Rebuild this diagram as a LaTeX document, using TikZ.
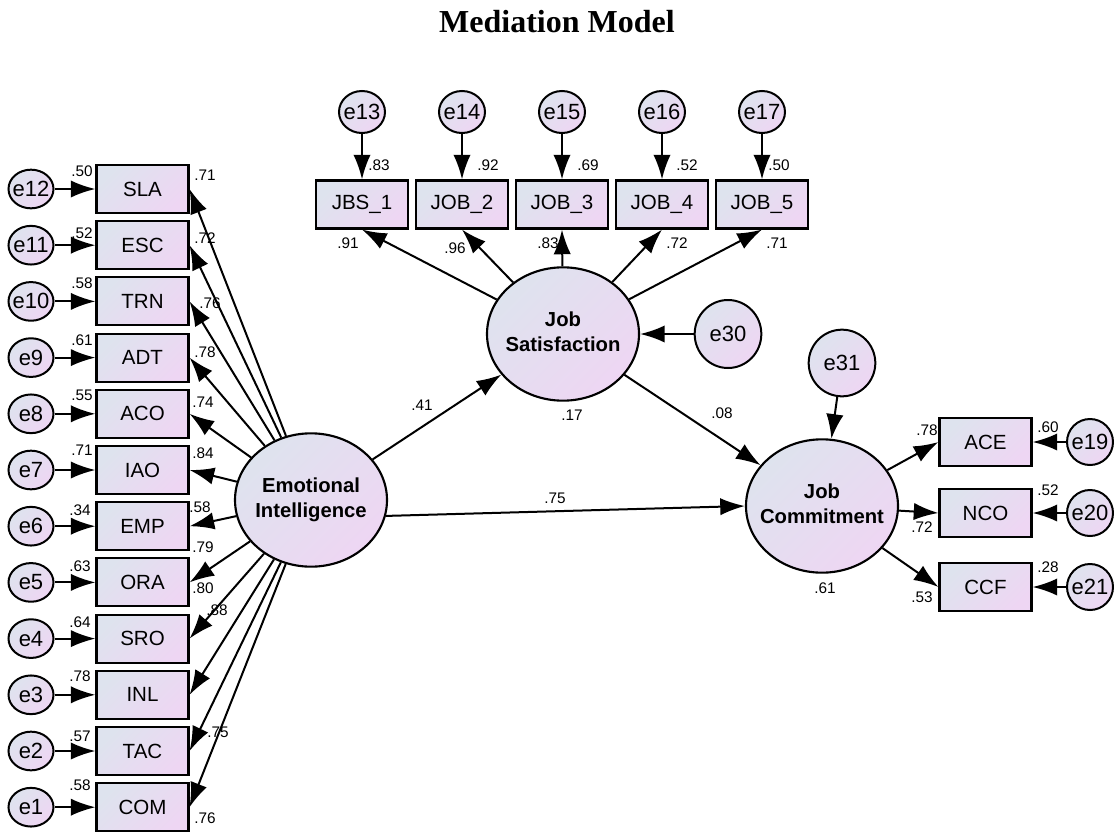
\documentclass[tikz,border=0pt]{standalone}
\usepackage{fontspec}
\setmainfont{Liberation Sans}
\newfontfamily\titlefont{Liberation Serif}
\usetikzlibrary{shapes.geometric,arrows.meta}
\definecolor{gradL}{RGB}{222,227,238}
\definecolor{gradR}{RGB}{238,214,243}
\newcommand\zwbox[1]{\makebox[0pt]{#1}}
\tikzset{
 grad/.style={left color=gradL,right color=gradR,shading angle=45},
 obs/.style={rectangle,draw,line width=1.6pt,grad,minimum width=69pt,minimum height=36pt,inner sep=0pt,font=\fontsize{15.4}{18}\selectfont},
 err/.style={ellipse,draw,line width=1.5pt,grad,inner sep=0pt,font=\fontsize{16.5}{19}\selectfont},
 lat/.style={ellipse,draw,line width=1.6pt,grad,minimum width=114pt,minimum height=100pt,inner sep=0pt,font=\fontsize{15.2}{18.75}\selectfont\bfseries},
 lbl/.style={inner sep=0pt,font=\fontsize{11.5}{13.5}\selectfont},
 arr/.style={line width=1.5pt,-{Latex[length=18.5pt,width=13pt]}},
}
\begin{document}
\begin{tikzpicture}[x=0.75pt,y=-0.75pt]
\useasboundingbox (0,0) rectangle (1114,832);
\node[anchor=base,inner sep=0pt,font=\titlefont\bfseries\fontsize{24}{28}\selectfont] (title) at (557,32) {Mediation Model};

% latent variables
\node[lat] (EI) at (311,500) {\zwbox{\begin{tabular}{@{}c@{}}Emotional\\Intelligence\end{tabular}}};
\node[lat] (JS) at (563,334) {\zwbox{\begin{tabular}{@{}c@{}}Job\\Satisfaction\end{tabular}}};
\node[lat] (JC) at (822,506) {\zwbox{\begin{tabular}{@{}c@{}}Job\\Commitment\end{tabular}}};
\node[err,minimum width=50pt,minimum height=51pt] (e30) at (728,334) {\zwbox{e30}};
\node[err,minimum width=50pt,minimum height=50pt] (e31) at (842,363) {\zwbox{e31}};

% left indicators
\foreach \nm/\er/\i in {SLA/e12/0,ESC/e11/1,TRN/e10/2,ADT/e9/3,ACO/e8/4,IAO/e7/5,EMP/e6/6,ORA/e5/7,SRO/e4/8,INL/e3/9,TAC/e2/10,COM/e1/11}{
  \pgfmathsetmacro\yy{189+56.2*\i}
  \node[obs] (\nm) at (142.5,\yy) {\nm};
  \node[err,minimum width=33.75pt,minimum height=29pt] (\er) at (31,\yy) {\zwbox{\er}};
  \draw[arr] (\er) -- (\nm);
  \draw[arr] (EI) -- (\nm.east);
}
% left variance labels
\foreach \v/\xx/\yy/\k in {.50/82/171/1,.52/82/233/2,.58/82/283/3,.61/82/340/4,.55/82/395/5,.71/82/450/6,.34/80/510/7,.63/80/566/8,.64/80/622/9,.78/80/676/10,.57/80/736/11,.58/80/785/12}{
  \node[lbl] (lv\k) at (\xx,\yy) {\v};
}
% left loading labels
\foreach \v/\xx/\yy/\k in {.71/205/175/1,.72/205/238/2,.76/210/303/3,.78/205/352/4,.74/203/402/5,.84/203/453/6,.58/200/507/7,.79/203/547/8,.80/203/588/9,.88/217/610/10,.75/218/732/11,.76/205/818/12}{
  \node[lbl] (ll\k) at (\xx,\yy) {\v};
}

% top indicators
\foreach \nm/\txt/\er/\xx in {JBS1/JBS\_1/e13/362,JOB2/JOB\_2/e14/462,JOB3/JOB\_3/e15/562,JOB4/JOB\_4/e16/662,JOB5/JOB\_5/e17/762}{
  \node[obs] (\nm) at (\xx,204.5) {\txt};
  \node[err,minimum width=34.5pt,minimum height=31.5pt] (\er) at (\xx,112) {\zwbox{\er}};
  \draw[arr] (\er) -- (\nm);
  \draw[arr] (JS) -- (\nm.south);
}
\foreach \v/\xx/\yy/\k in {.83/379/165/1,.92/488/165/2,.69/588/165/3,.52/687/165/4,.50/779/165/5,.91/348/243/6,.96/455/248/7,.83/548/243/8,.72/677/243/9,.71/777/243/10}{
  \node[lbl] (lt\k) at (\xx,\yy) {\v};
}

% right indicators
\foreach \nm/\er/\yy in {ACE/e19/442,NCO/e20/513,CCF/e21/587}{
  \node[obs] (\nm) at (985.5,\yy) {\nm};
  \node[err,minimum width=34.5pt,minimum height=34.5pt] (\er) at (1090,\yy) {\zwbox{\er}};
  \draw[arr] (\er) -- (\nm);
  \draw[arr] (JC) -- (\nm.west);
}
\foreach \v/\xx/\yy/\k in {.78/927/430/1,.60/1048/427/2,.52/1048/490/3,.72/922/527/4,.28/1048/567/5,.53/922/597/6,.61/825/588/7}{
  \node[lbl] (lr\k) at (\xx,\yy) {\v};
}

% structural paths
\draw[arr] (EI) -- (JS);
\draw[arr] (JS) -- (JC);
\draw[arr] (EI.-12) -- (JC.west);
\draw[arr] (e30) -- (JS);
\draw[arr] (e31) -- (JC);
\node[lbl] (l41) at (422,405) {.41};
\node[lbl] (l17) at (572,415) {.17};
\node[lbl] (l08) at (722,413) {.08};
\node[lbl] (l75) at (555,498) {.75};
\end{tikzpicture}
\end{document}
